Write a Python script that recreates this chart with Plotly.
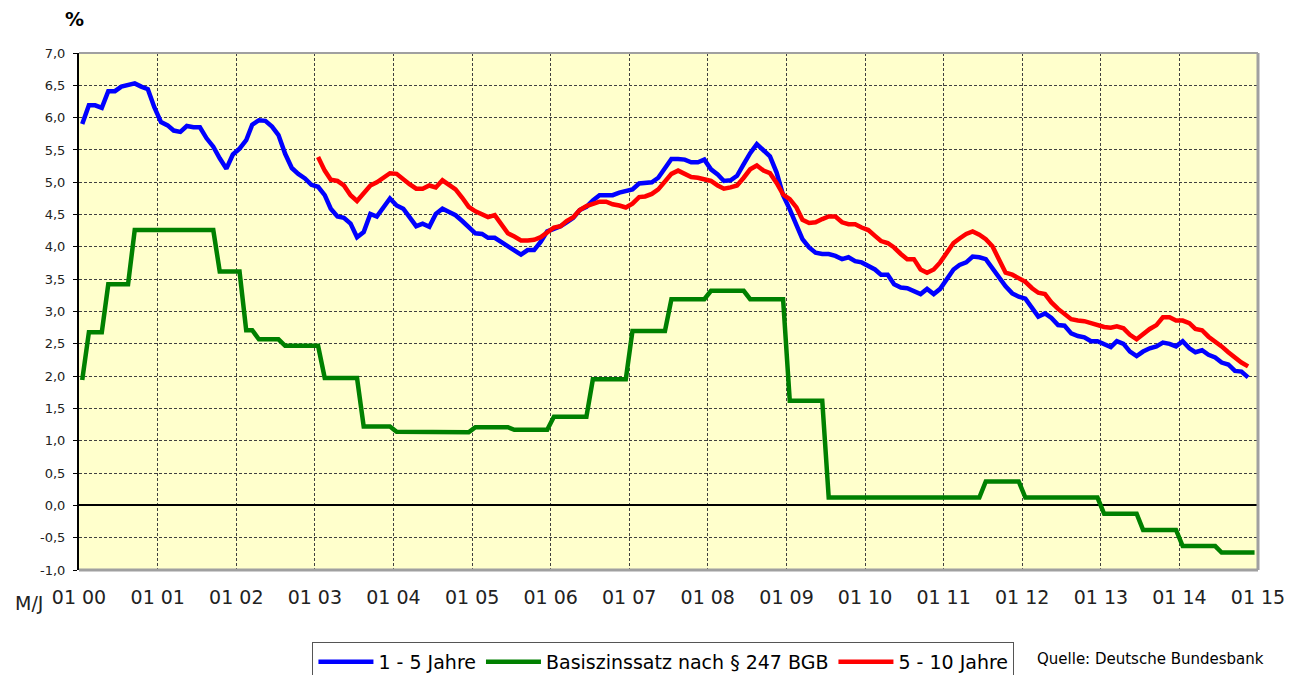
import pandas as pd
import plotly.graph_objects as go

# ---------------- data (monthly) ----------------
x_tick_labels = ["01 00", "01 01", "01 02", "01 03", "01 04", "01 05", "01 06", "01 07",
                 "01 08", "01 09", "01 10", "01 11", "01 12", "01 13", "01 14", "01 15"]
x_tick_years = [2000, 2001, 2002, 2003, 2004, 2005, 2006, 2007,
                2008, 2009, 2010, 2011, 2012, 2013, 2014, 2015]
y_tick_values = [-1.0, -0.5, 0.0, 0.5, 1.0, 1.5, 2.0, 2.5, 3.0, 3.5, 4.0, 4.5, 5.0, 5.5, 6.0, 6.5, 7.0]
y_tick_labels = ["-1,0", "-0,5", "0,0", "0,5", "1,0", "1,5", "2,0", "2,5", "3,0", "3,5",
                 "4,0", "4,5", "5,0", "5,5", "6,0", "6,5", "7,0"]

series_names = ["1 - 5 Jahre", "Basiszinssatz nach § 247 BGB", "5 - 10 Jahre"]

# 1 - 5 Jahre, from Jan 2000
blue_1_5 = [
    5.90, 6.19, 6.19, 6.15, 6.41, 6.41, 6.48, 6.51, 6.53, 6.48, 6.44, 6.16,  # 2000
    5.93, 5.88, 5.80, 5.78, 5.87, 5.85, 5.85, 5.68, 5.55, 5.37, 5.21, 5.43,  # 2001
    5.52, 5.65, 5.89, 5.96, 5.95, 5.86, 5.73, 5.44, 5.22, 5.13, 5.06, 4.96,  # 2002
    4.93, 4.80, 4.59, 4.47, 4.45, 4.36, 4.15, 4.23, 4.51, 4.47, 4.61, 4.75,  # 2003
    4.64, 4.59, 4.46, 4.32, 4.36, 4.31, 4.51, 4.59, 4.54, 4.49, 4.40, 4.30,  # 2004
    4.21, 4.20, 4.14, 4.14, 4.08, 4.01, 3.94, 3.88, 3.95, 3.95, 4.08, 4.24,  # 2005
    4.28, 4.32, 4.38, 4.45, 4.57, 4.62, 4.72, 4.80, 4.80, 4.80, 4.84, 4.86,  # 2006
    4.89, 4.98, 4.99, 5.00, 5.07, 5.21, 5.36, 5.36, 5.35, 5.31, 5.31, 5.35,  # 2007
    5.20, 5.12, 5.02, 5.03, 5.10, 5.28, 5.45, 5.59, 5.50, 5.40, 5.15, 4.80,  # 2008
    4.58, 4.32, 4.12, 3.99, 3.91, 3.89, 3.89, 3.86, 3.81, 3.84, 3.78, 3.76,  # 2009
    3.71, 3.65, 3.57, 3.57, 3.42, 3.37, 3.36, 3.32, 3.27, 3.35, 3.27, 3.35,  # 2010
    3.50, 3.65, 3.72, 3.76, 3.85, 3.84, 3.81, 3.67, 3.52, 3.39, 3.28, 3.23,  # 2011
    3.20, 3.05, 2.92, 2.97, 2.90, 2.79, 2.78, 2.66, 2.62, 2.60, 2.54, 2.54,  # 2012
    2.50, 2.45, 2.54, 2.50, 2.38, 2.31, 2.38, 2.43, 2.46, 2.52, 2.50, 2.46,  # 2013
    2.54, 2.43, 2.37, 2.40, 2.33, 2.29, 2.21, 2.18, 2.08, 2.07, 1.98,        # 2014
]

# Basiszinssatz nach § 247 BGB, from Jan 2000
green_basis = [
    1.94, 2.68, 2.68, 2.68, 3.42, 3.42, 3.42, 3.42, 4.26, 4.26, 4.26, 4.26,  # 2000
    4.26, 4.26, 4.26, 4.26, 4.26, 4.26, 4.26, 4.26, 4.26, 3.62, 3.62, 3.62,  # 2001
    3.62, 2.71, 2.71, 2.57, 2.57, 2.57, 2.57, 2.47, 2.47, 2.47, 2.47, 2.47,  # 2002
    2.47, 1.97, 1.97, 1.97, 1.97, 1.97, 1.97, 1.22, 1.22, 1.22, 1.22, 1.22,  # 2003
    1.14, 1.14, 1.14, 1.14, 1.14, 1.14, 1.13, 1.13, 1.13, 1.13, 1.13, 1.13,  # 2004
    1.21, 1.21, 1.21, 1.21, 1.21, 1.21, 1.17, 1.17, 1.17, 1.17, 1.17, 1.17,  # 2005
    1.37, 1.37, 1.37, 1.37, 1.37, 1.37, 1.95, 1.95, 1.95, 1.95, 1.95, 1.95,  # 2006
    2.70, 2.70, 2.70, 2.70, 2.70, 2.70, 3.19, 3.19, 3.19, 3.19, 3.19, 3.19,  # 2007
    3.32, 3.32, 3.32, 3.32, 3.32, 3.32, 3.19, 3.19, 3.19, 3.19, 3.19, 3.19,  # 2008
    1.62, 1.62, 1.62, 1.62, 1.62, 1.62, 0.12, 0.12, 0.12, 0.12, 0.12, 0.12,  # 2009
    0.12, 0.12, 0.12, 0.12, 0.12, 0.12, 0.12, 0.12, 0.12, 0.12, 0.12, 0.12,  # 2010
    0.12, 0.12, 0.12, 0.12, 0.12, 0.12, 0.37, 0.37, 0.37, 0.37, 0.37, 0.37,  # 2011
    0.12, 0.12, 0.12, 0.12, 0.12, 0.12, 0.12, 0.12, 0.12, 0.12, 0.12, 0.12,  # 2012
    -0.13, -0.13, -0.13, -0.13, -0.13, -0.13, -0.38, -0.38, -0.38, -0.38, -0.38, -0.38,  # 2013
    -0.63, -0.63, -0.63, -0.63, -0.63, -0.63, -0.73, -0.73, -0.73, -0.73, -0.73, -0.73,  # 2014
]

# 5 - 10 Jahre, from Jan 2003
red_5_10 = [
    5.39, 5.18, 5.04, 5.02, 4.95, 4.80, 4.71, 4.82, 4.95, 5.00, 5.08, 5.14,  # 2003
    5.13, 5.04, 4.97, 4.90, 4.90, 4.95, 4.92, 5.03, 4.95, 4.89, 4.76, 4.62,  # 2004
    4.55, 4.50, 4.46, 4.49, 4.36, 4.21, 4.16, 4.10, 4.10, 4.11, 4.15, 4.23,  # 2005
    4.30, 4.32, 4.40, 4.46, 4.57, 4.63, 4.67, 4.70, 4.70, 4.66, 4.64, 4.61,  # 2006
    4.67, 4.77, 4.78, 4.82, 4.89, 5.00, 5.13, 5.18, 5.12, 5.08, 5.07, 5.05,  # 2007
    5.02, 4.95, 4.90, 4.92, 4.95, 5.07, 5.20, 5.26, 5.18, 5.14, 4.99, 4.81,  # 2008
    4.74, 4.61, 4.42, 4.37, 4.38, 4.43, 4.47, 4.47, 4.38, 4.35, 4.35, 4.30,  # 2009
    4.26, 4.17, 4.09, 4.06, 3.99, 3.89, 3.81, 3.81, 3.65, 3.60, 3.65, 3.76,  # 2010
    3.91, 4.06, 4.13, 4.20, 4.24, 4.19, 4.12, 4.01, 3.80, 3.60, 3.57, 3.52,  # 2011
    3.46, 3.36, 3.29, 3.27, 3.14, 3.04, 2.97, 2.88, 2.86, 2.85, 2.82, 2.79,  # 2012
    2.76, 2.75, 2.77, 2.74, 2.64, 2.57, 2.65, 2.73, 2.79, 2.91, 2.91, 2.86,  # 2013
    2.86, 2.82, 2.73, 2.71, 2.61, 2.54, 2.46, 2.37, 2.28, 2.21, 2.15,        # 2014
]

blue_start = "2000-01-01"
green_start = "2000-01-01"
red_start = "2003-01-01"


def month_positions(start, n):
    # each monthly value sits in the middle of its month slot
    return pd.date_range(start, periods=n, freq="MS") + pd.Timedelta(days=15)


FONT = "DejaVu Sans"

fig = go.Figure()
fig.add_trace(go.Scatter(x=month_positions(blue_start, len(blue_1_5)), y=blue_1_5,
                         mode="lines", name=series_names[0],
                         line=dict(color="#0000FF", width=4.5)))
fig.add_trace(go.Scatter(x=month_positions(green_start, len(green_basis)), y=green_basis,
                         mode="lines", name=series_names[1],
                         line=dict(color="#008000", width=4.5)))
fig.add_trace(go.Scatter(x=month_positions(red_start, len(red_5_10)), y=red_5_10,
                         mode="lines", name=series_names[2],
                         line=dict(color="#FF0000", width=4.5)))

tick_dates = [f"{y}-01-01" for y in x_tick_years]

fig.update_xaxes(
    type="date",
    range=["2000-01-01", "2015-01-01"],
    tickmode="array", tickvals=tick_dates, ticktext=x_tick_labels,
    showgrid=True, gridcolor="#404040", gridwidth=1, griddash="3px,2px",
    ticks="", tickfont=dict(family=FONT, size=19, color="#222222"),
    ticklabelstandoff=14,
    showline=False, zeroline=False,
)
fig.update_yaxes(
    range=[-1.0, 7.0],
    tickmode="array", tickvals=y_tick_values, ticktext=y_tick_labels,
    showgrid=True, gridcolor="#404040", gridwidth=1, griddash="3px,2px",
    ticks="outside", ticklen=4, tickcolor="black",
    tickfont=dict(family=FONT, size=13, color="#222222"),
    ticklabelstandoff=5,
    showline=True, linecolor="black", linewidth=2,
    zeroline=True, zerolinecolor="black", zerolinewidth=1.5,
)

fig.update_layout(
    width=1292, height=700,
    margin=dict(l=71, r=42, t=45, b=138),
    paper_bgcolor="white", plot_bgcolor="#FFFFCC",
    font=dict(family=FONT, color="#222222"),
    showlegend=True,
    legend=dict(orientation="h", x=0.198, xanchor="left", y=-0.139, yanchor="top",
                bordercolor="#555555", borderwidth=1, bgcolor="white",
                itemwidth=55,
                font=dict(family=FONT, size=19, color="black"),
                traceorder="normal"),
    shapes=[
        # grey frame on top, right, bottom
        dict(type="line", xref="paper", yref="paper", x0=0, x1=1, y0=1, y1=1,
             line=dict(color="#A0A0A0", width=2)),
        dict(type="line", xref="paper", yref="paper", x0=1, x1=1, y0=0, y1=1,
             line=dict(color="#A0A0A0", width=3)),
        dict(type="line", xref="paper", yref="paper", x0=0, x1=1, y0=0, y1=0,
             line=dict(color="#A0A0A0", width=3)),
    ],
    annotations=[
        dict(text="<b>%</b>", xref="paper", yref="paper", x=-0.004, y=1.065,
             xanchor="center", yanchor="middle",
             showarrow=False, font=dict(family=FONT, size=19, color="black")),
        dict(text="M/J", xref="paper", yref="paper", x=-0.029, y=-0.064,
             xanchor="right", yanchor="middle",
             showarrow=False, font=dict(family=FONT, size=19, color="#222222")),
        dict(text="Quelle: Deutsche Bundesbank", xref="paper", yref="paper",
             x=0.811, y=-0.172, xanchor="left", yanchor="middle",
             showarrow=False, font=dict(family=FONT, size=15, color="black")),
    ],
)

fig.write_html("out.html")
